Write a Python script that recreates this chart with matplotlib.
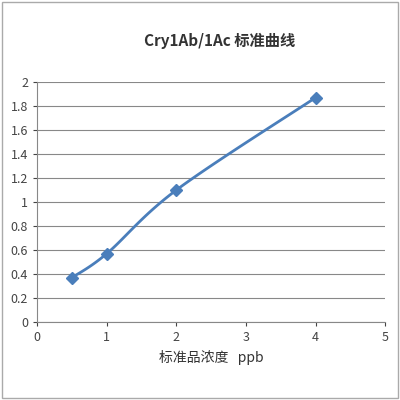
import matplotlib.pyplot as plt
import numpy as np

plt.rcParams['font.family'] = ['Noto Sans CJK SC', 'DejaVu Sans']

conc = [0.5, 1, 2, 4]
od = [0.37, 0.57, 1.10, 1.87]
title = "Cry1Ab/1Ac 标准曲线"
xlabel = "标准品浓度   ppb"
color = "#4a7ebb"


def smooth(xs, ys, n=30):
    # Excel-like smoothed line (Catmull-Rom through the points)
    p = np.column_stack([xs, ys])
    p = np.vstack([p[0], p, p[-1]])
    out = []
    for i in range(1, len(p) - 2):
        t = np.linspace(0, 1, n)[:, None]
        p0, p1, p2, p3 = p[i - 1], p[i], p[i + 1], p[i + 2]
        seg = 0.5 * ((2 * p1) + (-p0 + p2) * t + (2 * p0 - 5 * p1 + 4 * p2 - p3) * t ** 2
                     + (-p0 + 3 * p1 - 3 * p2 + p3) * t ** 3)
        out.append(seg)
    out = np.vstack(out)
    return out[:, 0], out[:, 1]


fig = plt.figure(figsize=(4, 4), dpi=100)
ax = fig.add_axes([0.093, 0.195, 0.87, 0.6])
sx, sy = smooth(conc, od)
ax.plot(sx, sy, color=color, linewidth=2)
ax.plot(conc, od, linestyle="none", marker="D", markersize=6, color=color)
ax.set_xlim(0, 5)
ax.set_ylim(0, 2)
ax.set_yticks(np.arange(0, 2.01, 0.2))
ax.set_yticklabels([f"{v:g}" for v in np.arange(0, 2.01, 0.2).round(1)])
ax.set_xticks(range(6))
ax.yaxis.grid(True, color="#888888", linewidth=0.8)
ax.set_axisbelow(True)
for s in ["top", "right"]:
    ax.spines[s].set_visible(False)
ax.spines["left"].set_color("#888888")
ax.spines["bottom"].set_color("#888888")
ax.tick_params(labelsize=9, colors="#444444", length=3)
ax.set_xlabel(xlabel, fontsize=10, color="#333333")
fig.text(0.55, 0.885, title, ha="center", fontsize=11, fontweight="bold", color="#333333")
fig.patches.append(plt.Rectangle((0.005, 0.005), 0.99, 0.99, transform=fig.transFigure,
                                 fill=False, edgecolor="#aaaaaa", linewidth=1))
fig.savefig("out.png", dpi=100)
